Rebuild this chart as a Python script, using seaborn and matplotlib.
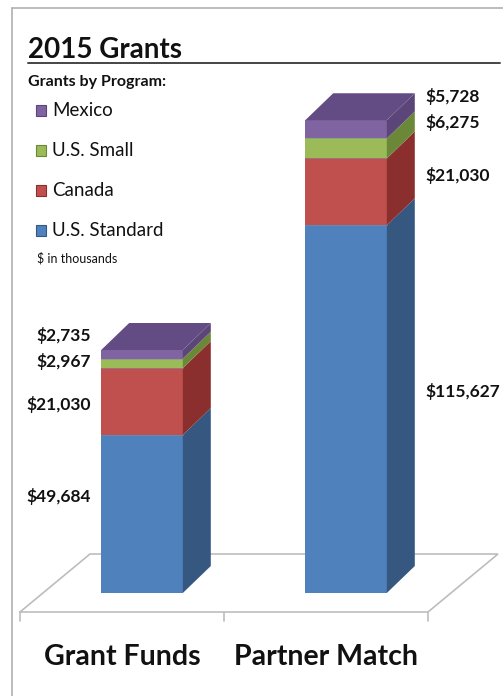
import numpy as np
import pandas as pd
import matplotlib
matplotlib.use("Agg")
import matplotlib.pyplot as plt
import seaborn as sns
from matplotlib.patches import Polygon, Rectangle
from matplotlib.lines import Line2D

# ---------------- data ($ in thousands) ----------------
categories = ["Grant Funds", "Partner Match"]
programs = ["U.S. Standard", "Canada", "U.S. Small", "Mexico"]
us_standard = [49.684, 115.627]
canada = [21.030, 21.030]
us_small = [2.967, 6.275]
mexico = [2.735, 5.728]
value_labels = {
    "U.S. Standard": ["$49,684", "$115,627"],
    "Canada": ["$21,030", "$21,030"],
    "U.S. Small": ["$2,967", "$6,275"],
    "Mexico": ["$2,735", "$5,728"],
}
title = "2015 Grants"
legend_title = "Grants by Program:"
units_note = "$ in thousands"

# ---------------- styling ----------------
front_colors = {"U.S. Standard": "#4F81BD", "Canada": "#C0504D",
                "U.S. Small": "#9BBB59", "Mexico": "#8064A2"}
side_colors = {"U.S. Standard": "#36577F", "Canada": "#8A2F2D",
               "U.S. Small": "#6A8838", "Mexico": "#5C4679"}
top_color = "#624C83"

sns.set_theme(style="white")
plt.rcParams["font.family"] = ["Lato", "DejaVu Sans"]

W, H = 503, 696
fig = plt.figure(figsize=(W / 100, H / 100), dpi=100)
ax = fig.add_axes([0, 0, 1, 1])

# pixel mapping: category 0 at x px 142, unit = 204 px; value 0 at y px 593, 3.18 px per thousand
px_per_cat = 204.0
px_per_k = 3.18
x0_px, y0_px = 142.0, 593.0
xlim = (-x0_px / px_per_cat, (W - x0_px) / px_per_cat)
ylim = (-(H - y0_px) / px_per_k, y0_px / px_per_k)

series = {"U.S. Standard": us_standard, "Canada": canada,
          "U.S. Small": us_small, "Mexico": mexico}
vals = np.array([series[p] for p in programs])  # shape (4, 2)
tops = np.cumsum(vals, axis=0)
bottoms = tops - vals

bar_w = 0.40
# front faces: cumulative totals, tallest first
for k in range(len(programs) - 1, -1, -1):
    df = pd.DataFrame({"cat": categories, "val": tops[k]})
    sns.barplot(data=df, x="cat", y="val", color=front_colors[programs[k]],
                width=bar_w, linewidth=0, saturation=1, ax=ax, zorder=3)

dx = 28 / px_per_cat      # depth offset in category units
dy = 27 / px_per_k        # depth offset in thousands

for i in range(len(categories)):
    xr = i + bar_w / 2
    xl = i - bar_w / 2
    for k, p in enumerate(programs):
        b, t = bottoms[k, i], tops[k, i]
        ax.add_patch(Polygon([(xr, b), (xr + dx, b + dy), (xr + dx, t + dy), (xr, t)],
                             closed=True, facecolor=side_colors[p], edgecolor="none", zorder=3))
    t = tops[-1, i]
    ax.add_patch(Polygon([(xl, t), (xr, t), (xr + dx, t + dy), (xl + dx, t + dy)],
                         closed=True, facecolor=top_color, edgecolor="none", zorder=3))
    for k in range(len(programs) - 1):
        ax.plot([xl, xr], [tops[k, i], tops[k, i]], color="#7f8fa8", lw=0.6, zorder=4, alpha=0.6)

# floor (oblique plane)
shift = 20 / px_per_cat
fl, fr = -0.5 - shift, 1.5 - shift
fy = -19 / px_per_k
bx, by = 70 / px_per_cat, 58 / px_per_k
floor_col = "#BDBDBD"
ax.plot([fl, fr, fr + bx, fl + bx, fl], [fy, fy, fy + by, fy + by, fy],
        color=floor_col, lw=1.2, zorder=1, solid_joinstyle="miter")
tick_len = 9 / px_per_k
for xt in [fl, (fl + fr) / 2, fr]:
    ax.plot([xt, xt], [fy, fy - tick_len], color=floor_col, lw=1.2, zorder=1)

# value labels
lab_kw = dict(fontsize=12.5, fontweight="bold", color="#111111", va="center", zorder=5)
left_nudge = {"U.S. Standard": 5.5, "Canada": -1.0, "U.S. Small": 0.5, "Mexico": 6.0}
right_nudge = {"U.S. Standard": 5.5, "Canada": 5.0, "U.S. Small": 8.3, "Mexico": 10.2}
for k, p in enumerate(programs):
    c0 = (bottoms[k, 0] + tops[k, 0]) / 2
    ax.text(-0.25, c0 + left_nudge[p], value_labels[p][0], ha="right", **lab_kw)
    c1 = (bottoms[k, 1] + tops[k, 1]) / 2
    ax.text(1 + 0.39, c1 + right_nudge[p], value_labels[p][1], ha="left", **lab_kw)

ax.set_xlim(*xlim)
ax.set_ylim(*ylim)
ax.axis("off")

# category labels
for i, c in enumerate(categories):
    ax.text(i - shift, -(657 - y0_px) / px_per_k, c, ha="center", va="center",
            fontsize=20.5, fontweight="bold", color="#111111")

def fx(px):
    return px / W

def fy_(py):
    return 1 - py / H

# frame lines (left and top)
fig.add_artist(Line2D([fx(12), fx(12)], [fy_(8), 0], color="#B0B0B0", lw=1.2))
fig.add_artist(Line2D([fx(12), 1], [fy_(8), fy_(8)], color="#B0B0B0", lw=1.2))
# title and underline
fig.text(fx(28), fy_(58), title, ha="left", va="baseline", fontsize=20,
         fontweight="bold", color="#111111")
fig.add_artist(Line2D([fx(28), fx(500)], [fy_(62.5), fy_(62.5)], color="#444444", lw=1.4))
fig.text(fx(28), fy_(82), legend_title, ha="left", va="center", fontsize=11.5,
         fontweight="bold", color="#111111")

# legend
leg_y = [110, 150, 190, 230]
for p, yy in zip(programs[::-1], leg_y):
    fig.patches.append(Rectangle((fx(36), fy_(yy + 5.5)), 10 / W, 11 / H,
                                 transform=fig.transFigure, facecolor=front_colors[p],
                                 edgecolor=side_colors[p], lw=0.8))
    fig.text(fx(52), fy_(yy), p, ha="left", va="center", fontsize=13.5, color="#111111")
fig.text(fx(37), fy_(258), units_note, ha="left", va="center", fontsize=9, color="#111111")

fig.savefig("out.png", dpi=100, facecolor="white")
